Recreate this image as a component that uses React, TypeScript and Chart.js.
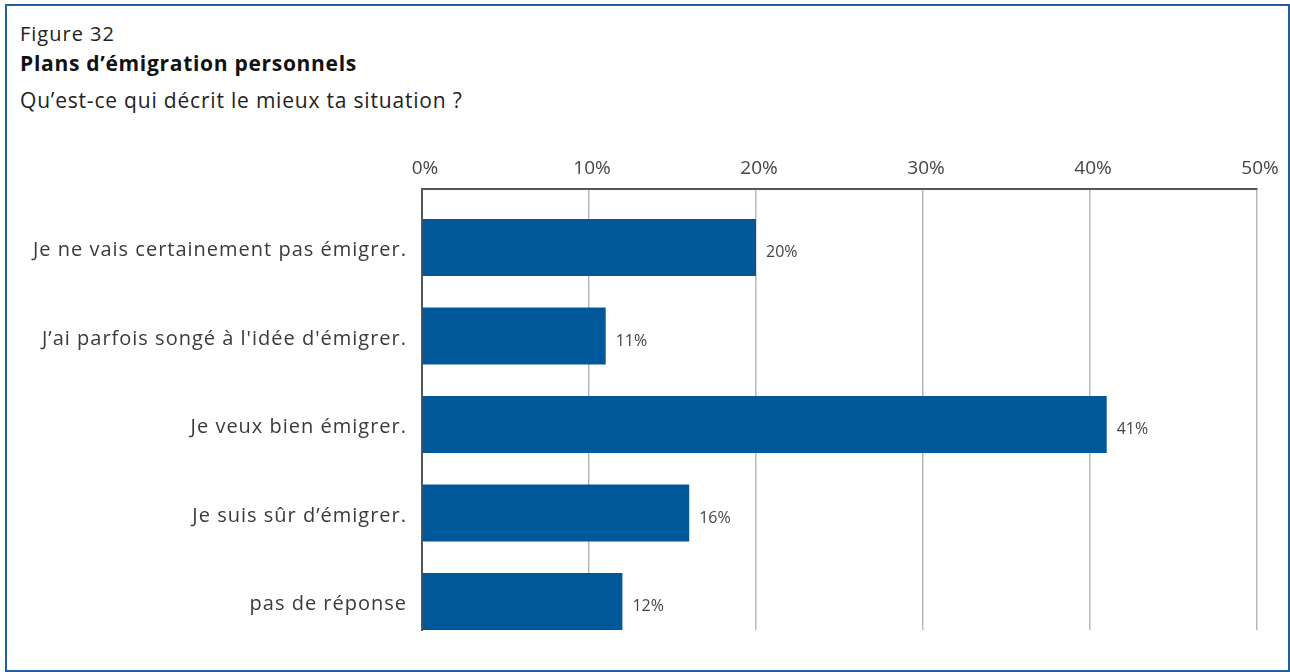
import React, { useEffect, useRef } from "react";
import { Chart, registerables } from "chart.js";

Chart.register(...registerables);

const categories = [
  "Je ne vais certainement pas émigrer.",
  "J’ai parfois songé à l'idée d'émigrer.",
  "Je veux bien émigrer.",
  "Je suis sûr d’émigrer.",
  "pas de réponse",
];
const values = [20, 11, 41, 16, 12];
const tickValues = [0, 10, 20, 30, 40, 50];
const categoryIndex = [0, 1, 2, 3, 4];

const FONT = "'Open Sans', 'Noto Sans', sans-serif";
const BAR_COLOR = "#00589b";

const valueLabels = {
  id: "valueLabels",
  afterDatasetsDraw(chart: any) {
    const ctx = chart.ctx;
    const meta = chart.getDatasetMeta(0);
    ctx.save();
    ctx.font = `16px ${FONT}`;
    ctx.fillStyle = "#444";
    ctx.textAlign = "left";
    ctx.textBaseline = "middle";
    meta.data.forEach((bar: any, i: number) => {
      ctx.fillText(`${values[i]}%`, bar.x + 10, bar.y + 5);
    });
    ctx.restore();
  },
};

export default function App() {
  const ref = useRef<HTMLCanvasElement | null>(null);
  useEffect(() => {
    if (!ref.current) return;
    const chart = new Chart(ref.current, {
      type: "bar",
      data: {
        datasets: [
          {
            data: values.map((v, i) => ({ x: v, y: categoryIndex[i] })),
            backgroundColor: BAR_COLOR,
            barPercentage: 0.644,
            categoryPercentage: 1,
          },
        ],
      },
      options: {
        indexAxis: "y",
        animation: false,
        responsive: false,
        layout: { padding: { left: 0, right: 33, top: 0, bottom: 42 } },
        plugins: { legend: { display: false }, tooltip: { enabled: false } },
        scales: {
          x: {
            type: "linear",
            position: "top",
            min: 0,
            max: 50,
            afterBuildTicks(scale: any) {
              scale.ticks = tickValues.map((v) => ({ value: v }));
            },
            afterFit(scale: any) {
              scale.height = 189;
            },
            ticks: {
              callback: (v: any) => `${v}%`,
              font: { family: FONT, size: 19 },
              color: "#444",
              padding: 9,
              labelOffset: 3,
              maxRotation: 0,
            },
            grid: { color: "#b8b8b8", lineWidth: 1.5, drawTicks: false },
            border: { color: "#555", width: 2 },
          },
          y: {
            type: "linear",
            reverse: true,
            offset: false,
            min: -0.661,
            max: 4.322,
            afterBuildTicks(scale: any) {
              scale.ticks = categoryIndex.map((v) => ({ value: v }));
            },
            afterFit(scale: any) {
              scale.width = 422;
              if (!scale.__spaced) {
                const orig = scale.drawLabels.bind(scale);
                scale.drawLabels = (area: any) => {
                  const c = scale.ctx;
                  c.save();
                  c.letterSpacing = "1px";
                  orig(area);
                  c.restore();
                };
                scale.__spaced = true;
              }
            },
            ticks: {
              callback: (v: any) => categories[v] ?? "",
              font: { family: FONT, size: 20 },
              color: "#3a3a3a",
              padding: 15,
              labelOffset: 3,
            },
            grid: { display: false, drawTicks: false, offset: false },
            border: { color: "#555", width: 2 },
          },
        },
      },
      plugins: [valueLabels],
    });
    return () => chart.destroy();
  }, []);

  return (
    <div style={{ position: "absolute", left: 0, top: 0, width: 1290, height: 672, background: "#fff", fontFamily: FONT }}>
      <div
        style={{
          position: "absolute",
          left: 5,
          top: 4,
          width: 1285 - 4,
          height: 668 - 4,
          border: "2px solid #1f5f9f",
        }}
      />
      <div style={{ position: "absolute", left: 20, top: 20, fontSize: 20, color: "#222", lineHeight: "28px", letterSpacing: "1px" }}>
        Figure 32
      </div>
      <div style={{ position: "absolute", left: 20, top: 49, fontSize: 21, fontWeight: 700, color: "#111", lineHeight: "28px", letterSpacing: "0.7px" }}>
        Plans d’émigration personnels
      </div>
      <div style={{ position: "absolute", left: 20, top: 85, fontSize: 21, color: "#222", lineHeight: "30px", letterSpacing: "0.8px" }}>
        Qu’est-ce qui décrit le mieux ta situation ?
      </div>
      <canvas ref={ref} width={1290} height={672} style={{ position: "absolute", left: 0, top: 0, width: 1290, height: 672 }} />
    </div>
  );
}
